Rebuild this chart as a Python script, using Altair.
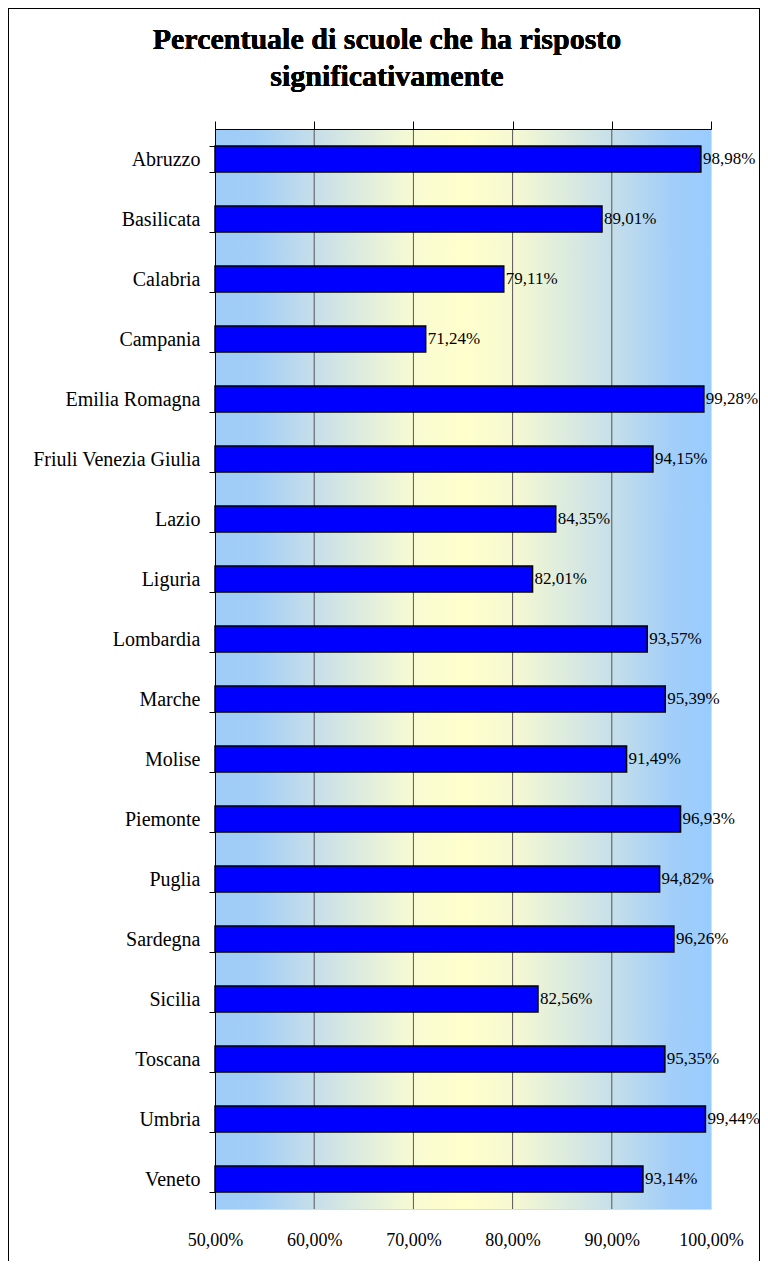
import altair as alt
import pandas as pd

regions = ["Abruzzo", "Basilicata", "Calabria", "Campania", "Emilia Romagna",
           "Friuli Venezia Giulia", "Lazio", "Liguria", "Lombardia", "Marche",
           "Molise", "Piemonte", "Puglia", "Sardegna", "Sicilia", "Toscana",
           "Umbria", "Veneto"]
values = [98.98, 89.01, 79.11, 71.24, 99.28, 94.15, 84.35, 82.01, 93.57, 95.39,
          91.49, 96.93, 94.82, 96.26, 82.56, 95.35, 99.44, 93.14]
grid_values = [60, 70, 80, 90]
tick_values = [50, 60, 70, 80, 90, 100]
title_lines = ["Percentuale di scuole che ha risposto", "significativamente"]

W, H = 496, 1080
PL, PT, PR, PB = 207, 121, 49, 52
FONT = "Liberation Serif"

df = pd.DataFrame({"regione": regions, "valore": values})
gdf = pd.DataFrame({"g": grid_values})

xscale = alt.Scale(domain=[50, 100], zero=False, nice=False)
yscale = alt.Scale(domain=regions, paddingInner=0.567, paddingOuter=0.2835)

gradient = alt.LinearGradient(
    gradient="linear", x1=0, x2=1, y1=0, y2=0,
    stops=[
        alt.GradientStop(offset=0.0, color="#9ECCF8"),
        alt.GradientStop(offset=0.08, color="#A2CEF6"),
        alt.GradientStop(offset=0.2, color="#C6DEEA"),
        alt.GradientStop(offset=0.4, color="#F8FBD2"),
        alt.GradientStop(offset=0.5, color="#FFFFCC"),
        alt.GradientStop(offset=0.6, color="#F6F9D2"),
        alt.GradientStop(offset=0.8, color="#C6DFEA"),
        alt.GradientStop(offset=0.92, color="#A2CEF8"),
        alt.GradientStop(offset=1.0, color="#99CCFF"),
    ],
)

frame = alt.Chart(gdf).mark_rect(fill="white", fillOpacity=0, stroke="black", strokeWidth=1).encode(
    x=alt.value(-PL + 0.5), x2=alt.value(W + PR - 0.5), y=alt.value(-PT + 0.5), y2=alt.value(1400)
)

title = alt.Chart(gdf).mark_text(
    text=title_lines, font=FONT, fontSize=30, fontWeight="bold", color="black",
    align="center", baseline="alphabetic", lineHeight=37
).encode(x=alt.value(172), y=alt.value(-80))

bg = alt.Chart(gdf).mark_rect(color=gradient).encode(
    x=alt.value(0), x2=alt.value(W), y=alt.value(0), y2=alt.value(H)
)

grid = alt.Chart(gdf).mark_rule(color="#555555", strokeWidth=1).encode(
    x=alt.X("g:Q", scale=xscale,
            axis=alt.Axis(orient="top", labels=False, ticks=True, tickSize=8,
                          tickColor="black", domain=True, domainColor="black",
                          grid=False, title=None, values=tick_values, zindex=1))
)

bars = alt.Chart(df).mark_bar(color="#0000FF", stroke="black", strokeWidth=1.5).encode(
    y=alt.Y("regione:N", scale=yscale, sort=regions,
            axis=alt.Axis(title=None, tickBand="extent", tickSize=6, tickColor="black",
                          domainColor="black", labelFont=FONT, labelFontSize=20,
                          labelColor="black", labelPadding=9, zindex=1)),
    x=alt.X("valore:Q", scale=xscale,
            axis=alt.Axis(orient="bottom", title=None, ticks=False, domain=False,
                          grid=False, values=tick_values,
                          labelExpr="replace(format(datum.value, '.2f'), '.', ',') + '%'",
                          labelFont=FONT, labelFontSize=18, labelColor="black",
                          labelPadding=22, labelFlush=False, zindex=1)),
    x2=alt.datum(50),
)

labels = alt.Chart(df).transform_calculate(
    lab="replace(format(datum.valore, '.2f'), '.', ',') + '%'"
).mark_text(align="left", baseline="middle", dx=2, font=FONT, fontSize=17, color="black").encode(
    y=alt.Y("regione:N", scale=yscale, sort=regions),
    x=alt.X("valore:Q", scale=xscale, axis=None),
    text="lab:N",
)

chart = alt.layer(frame, title, bg, grid, bars, labels).resolve_axis(x="independent").properties(
    width=W, height=H,
    autosize=alt.AutoSizeParams(type="none"),
    padding={"left": PL, "top": PT, "right": PR, "bottom": PB},
).configure_view(stroke="#808080", strokeWidth=1).configure(background="white")

chart.save("out.html", embed_options={"renderer": "svg", "actions": False})
